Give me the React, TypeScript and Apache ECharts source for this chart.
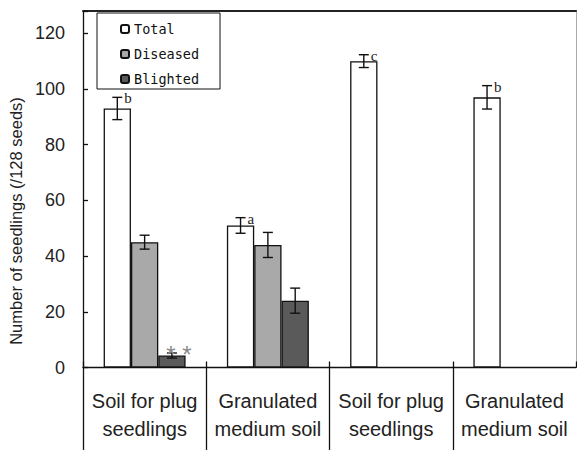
import React, { useEffect, useRef } from "react";
import * as echarts from "echarts";

const categories = [
  "Soil for plug\nseedlings",
  "Granulated\nmedium soil",
  "Soil for plug\nseedlings ",
  "Granulated\nmedium soil ",
];
const seriesNames = ["Total", "Diseased", "Blighted"];
const totalValues = [93, 51, 110, 97];
const totalErrors = [4, 2.8, 2.3, 4.2];
const diseasedValues: (number | null)[] = [45, 44, null, null];
const diseasedErrors: (number | null)[] = [2.5, 4.5, null, null];
const blightedValues: (number | null)[] = [4.3, 24, null, null];
const blightedErrors: (number | null)[] = [0.9, 4.5, null, null];
const totalLetters = ["b", "a", "c", "b"];
const blightedMarks = ["* *", "", "", ""];
const yTicks = [0, 20, 40, 60, 80, 100, 120];
const dividerPositions = [0, 1, 2, 3];
const yMax = 128;
const yTitle = "Number of seedlings (/128 seeds)";

const CAT_GAP = 0.335;

export default function App() {
  const ref = useRef<HTMLDivElement>(null);
  useEffect(() => {
    document.body.style.margin = "0";
    const chart = echarts.init(ref.current!, null, { renderer: "svg" });
    const allValues = [totalValues, diseasedValues, blightedValues];
    const allErrors = [totalErrors, diseasedErrors, blightedErrors];
    const notes = [totalLetters, ["", "", "", ""], blightedMarks];
    const errData: number[][] = [];
    allValues.forEach((vals, k) => {
      vals.forEach((v, i) => {
        const e = allErrors[k][i];
        if (v != null && e != null) errData.push([i, v, e, k]);
      });
    });
    const fills = ["#ffffff", "#a9a9a9", "#5a5a5a"];
    const barSeries = seriesNames.map((name, k) => ({
      name,
      type: "bar",
      xAxisIndex: 0,
      yAxisIndex: 0,
      data: allValues[k].map((v) => (v == null ? "-" : v)),
      barGap: "0%",
      barCategoryGap: CAT_GAP * 100 + "%",
      itemStyle: { color: fills[k], borderColor: "#111", borderWidth: 1.3 },
    }));
    const tickSet = new Set(yTicks);
    const labelFmt = (s: string) => s.trim();
    chart.setOption({
      animation: false,
      backgroundColor: "#ffffff",
      grid: { left: 83, right: 1, top: 11, bottom: 82.5 },
      legend: {
        data: seriesNames,
        orient: "vertical",
        left: 97,
        top: 13,
        padding: [8, 21, 2, 23],
        itemGap: 9,
        itemWidth: 8,
        itemHeight: 8,
        backgroundColor: "#ffffff",
        borderColor: "#111",
        borderWidth: 1,
        textStyle: { fontFamily: "DejaVu Sans Mono", fontSize: 13.5, color: "#111", lineHeight: 16 },
      },
      xAxis: [
        {
          type: "category",
          data: categories,
          position: "bottom",
          axisLine: { show: true, onZero: false, lineStyle: { color: "#111", width: 1.3 } },
          axisTick: {
            show: true,
            interval: 0,
            alignWithLabel: false,
            inside: true,
            length: 6,
            lineStyle: { color: "#111", width: 1.3 },
          },
          axisLabel: {
            show: true,
            interval: 0,
            margin: 19,
            fontFamily: "Liberation Sans",
            fontSize: 20,
            lineHeight: 28,
            color: "#222",
            verticalAlign: "top",
            formatter: labelFmt,
          },
        },
        {
          type: "value",
          min: 0,
          max: categories.length,
          position: "bottom",
          splitLine: { show: false },
          axisLine: { show: false, onZero: false },
          axisTick: {
            show: true,
            customValues: dividerPositions,
            inside: false,
            length: 83,
            lineStyle: { color: "#111", width: 1.3 },
          },
          axisLabel: { show: false },
        },
        {
          type: "category",
          data: categories,
          position: "top",
          axisLine: { show: true, onZero: false, lineStyle: { color: "#222", width: 2 } },
          axisTick: { show: false },
          axisLabel: { show: false },
        },
      ],
      yAxis: [
        {
          type: "value",
          min: 0,
          max: yMax,
          interval: 20,
          position: "left",
          splitLine: { show: false },
          axisLine: { show: true, lineStyle: { color: "#111", width: 1.3 } },
          axisTick: { show: true, inside: true, length: 5, lineStyle: { color: "#111", width: 1.3 } },
          axisLabel: {
            margin: 18,
            fontFamily: "Liberation Sans",
            fontSize: 18,
            color: "#222",
            formatter: (v: number) => (tickSet.has(v) ? String(v) : ""),
          },
        },
        {
          type: "value",
          min: 0,
          max: yMax,
          interval: 20,
          position: "right",
          splitLine: { show: false },
          axisLine: { show: true, lineStyle: { color: "#aaa", width: 1 } },
          axisTick: { show: false },
          axisLabel: { show: false },
        },
      ],
      graphic: [
        {
          type: "text",
          x: 16,
          y: 221,
          rotation: Math.PI / 2,
          style: {
            text: yTitle,
            fontFamily: "Liberation Sans",
            fontSize: 16.5,
            fill: "#222",
            textAlign: "center",
            textVerticalAlign: "middle",
          },
        },
      ],
      series: [
        ...barSeries,
        {
          type: "custom",
          xAxisIndex: 0,
          yAxisIndex: 0,
          z: 10,
          data: errData,
          encode: { x: 0, y: 1 },
          renderItem: (params: any, api: any) => {
            const i = api.value(0);
            const v = api.value(1);
            const e = api.value(2);
            const k = api.value(3);
            const band = api.size([1, 0])[0];
            const groupW = band * (1 - CAT_GAP);
            const barW = groupW / 3;
            const c = api.coord([i, v]);
            const x = c[0] - groupW / 2 + barW * (k + 0.5);
            const yTop = api.coord([i, v + e])[1];
            const yBot = api.coord([i, v - e])[1];
            const cap = 5;
            const ls = { stroke: "#111", lineWidth: 1.4 };
            const children: any[] = [
              { type: "line", shape: { x1: x, y1: yTop, x2: x, y2: yBot }, style: ls },
              { type: "line", shape: { x1: x - cap, y1: yTop, x2: x + cap, y2: yTop }, style: ls },
              { type: "line", shape: { x1: x - cap, y1: yBot, x2: x + cap, y2: yBot }, style: ls },
            ];
            const note = notes[k][i];
            if (note && k === 0) {
              children.push({
                type: "text",
                style: {
                  text: note,
                  x: x + 7,
                  y: yTop + 1,
                  fontFamily: "Liberation Serif",
                  fontSize: 15,
                  fill: "#222",
                  textAlign: "left",
                  textVerticalAlign: "middle",
                },
              });
            } else if (note && k === 2) {
              children.push({
                type: "text",
                style: {
                  text: note,
                  x: x + 7,
                  y: yTop + 1,
                  fontFamily: "Liberation Sans",
                  fontSize: 24,
                  fill: "#888",
                  textAlign: "center",
                  textVerticalAlign: "middle",
                },
              });
            }
            return { type: "group", children };
          },
        },
      ],
    });
    return () => chart.dispose();
  }, []);
  return <div ref={ref} style={{ width: 577, height: 450 }} />;
}
